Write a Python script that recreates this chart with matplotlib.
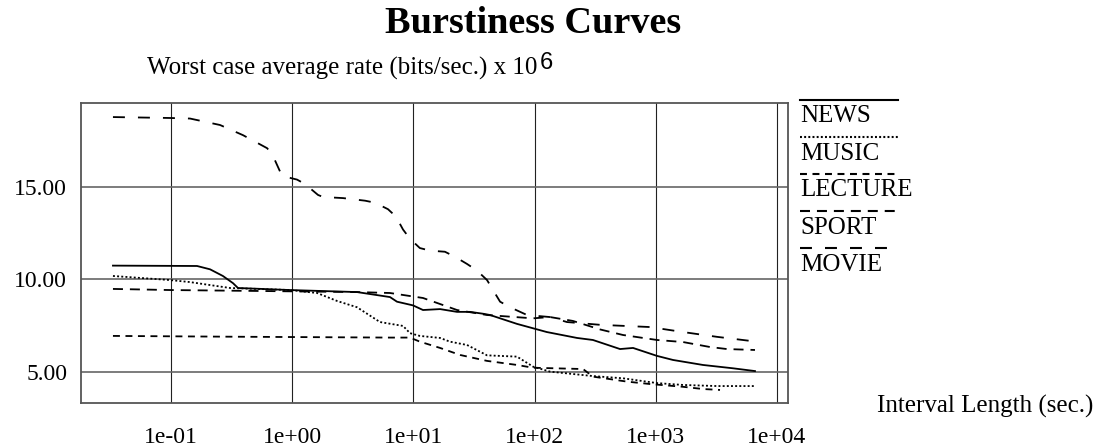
import matplotlib
matplotlib.use("Agg")
import matplotlib.pyplot as plt
from matplotlib.lines import Line2D
from matplotlib.ticker import FixedLocator, NullLocator

plt.rcParams['font.family'] = ['Liberation Serif', 'DejaVu Serif']
plt.rcParams['lines.scale_dashes'] = False

# interval length (sec.) / worst case average rate (x 10^6 bits/sec.)
news_t = [0.0332, 0.164, 0.21, 0.268, 0.325, 0.357, 0.959, 3.43, 6.41, 7.32, 9.93, 12.0, 16.6,
          22.9, 29.3, 37.5, 42.9, 71.6, 126, 224, 303, 507, 649, 1023, 1387, 2450, 4335, 6580]
news_r = [10.75, 10.73, 10.55, 10.19, 9.8, 9.54, 9.43, 9.32, 9.05, 8.8, 8.6, 8.35, 8.4,
          8.25, 8.25, 8.15, 8.08, 7.6, 7.16, 6.84, 6.73, 6.24, 6.3, 5.87, 5.65, 5.38, 5.2, 5.05]

music_t = [0.0332, 0.098, 0.1435, 0.307, 0.959, 1.603, 2.343, 3.425, 5.30, 8.21, 9.37, 11.3,
           16.6, 20.0, 27.7, 40.5, 71.6, 97, 134, 303, 536, 1023, 1675, 3200, 6580]
music_r = [10.19, 9.97, 9.86, 9.54, 9.43, 9.27, 8.84, 8.5, 7.7, 7.49, 7.1, 6.95,
           6.84, 6.64, 6.46, 5.9, 5.83, 5.29, 5.02, 4.78, 4.66, 4.4, 4.3, 4.24, 4.24]

lecture_t = [0.0332, 0.268, 6.41, 9.37, 11.3, 16.6, 24.3, 40.5, 71.6, 97, 251, 303, 578,
             895, 1675, 2450, 3387]
lecture_r = [6.95, 6.91, 6.86, 6.86, 6.64, 6.3, 5.92, 5.6, 5.38, 5.23, 5.16, 4.75, 4.48,
             4.35, 4.2, 4.08, 4.03]

sport_t = [0.0332, 0.098, 0.513, 3.43, 6.41, 12.0, 15.7, 22.9, 40.5, 97, 134, 207, 347, 536,
           1023, 1675, 2800, 3866, 6580]
sport_r = [9.49, 9.43, 9.38, 9.32, 9.27, 9.0, 8.73, 8.35, 8.08, 7.9, 7.97, 7.76, 7.3, 7.0,
           6.73, 6.62, 6.35, 6.24, 6.19]

movie_t = [0.0332, 0.098, 0.1435, 0.254, 0.393, 0.620, 0.681, 0.749, 0.824, 1.096, 1.276,
           1.633, 1.796, 2.626, 3.99, 4.82, 6.17, 7.18, 8.21, 9.37, 11.3, 13.7, 18.2, 22.0,
           27.7, 33.5, 40.5, 45.4, 51.9, 62.7, 86.6, 134, 185, 347, 895, 1675, 3200, 6580]
movie_r = [18.78, 18.73, 18.7, 18.35, 17.8, 17.1, 16.8, 16.2, 15.6, 15.4, 15.16,
           14.57, 14.46, 14.4, 14.26, 14.15, 13.8, 13.4, 12.7, 12.2, 11.7, 11.56, 11.5, 11.23,
           10.84, 10.48, 9.97, 9.43, 8.8, 8.5, 8.08, 7.97, 7.7, 7.55, 7.43, 7.16, 6.9, 6.65]

x_ticks = [1e-1, 1e0, 1e1, 1e2, 1e3, 1e4]
x_labels = ['1e-01', '1e+00', '1e+01', '1e+02', '1e+03', '1e+04']
y_ticks = [5, 10, 15]
y_labels = ['5.00', '10.00', '15.00']

names = ['NEWS', 'MUSIC', 'LECTURE', 'SPORT', 'MOVIE']
styles = ['-', (0, (1.4, 1.6)), (0, (5.0, 4.0)), (0, (7.2, 5.0)), (0, (8.6, 9.4))]

W, H = 1108, 448
fig = plt.figure(figsize=(W / 100, H / 100), dpi=100)
ax = fig.add_axes([81 / W, 45 / H, 707 / W, 300 / H])

series = [(news_t, news_r), (music_t, music_r), (lecture_t, lecture_r),
          (sport_t, sport_r), (movie_t, movie_r)]
for (t, r), ls in zip(series, styles):
    ax.plot(t, r, color='black', lw=1.3, linestyle=ls)

ax.set_xscale('log')
ax.set_xlim(0.01809, 12323)
ax.set_ylim(3.324, 19.54)

ax.xaxis.set_major_locator(FixedLocator(x_ticks))
ax.xaxis.set_minor_locator(NullLocator())
ax.set_xticklabels(x_labels)
ax.set_yticks(y_ticks)
ax.set_yticklabels(y_labels)
ax.tick_params(length=0, labelsize=17)
ax.tick_params(axis='x', pad=17)
ax.tick_params(axis='y', pad=10)

# grid
for x in x_ticks:
    ax.axvline(x, color='#222222', lw=0.8, zorder=0)
for y in y_ticks:
    ax.axhline(y, color='#666666', lw=1.2, zorder=0)
for s in ax.spines.values():
    s.set_color('#555555')
    s.set_linewidth(1.3)

# titles
fig.text(533 / W, 1 - 33 / H, 'Burstiness Curves', ha='center', va='baseline',
         fontsize=27.5, fontweight='bold')
yl = fig.text(147 / W, 1 - 75 / H, 'Worst case average rate (bits/sec.) x 10',
              ha='left', va='baseline', fontsize=18)
ax.annotate('6', xy=(1, 0), xycoords=yl, xytext=(2, 8.5), textcoords='offset points',
            ha='left', va='baseline', fontsize=17, family=['Liberation Sans'])
fig.text(877 / W, 1 - 413 / H, 'Interval Length (sec.)', ha='left', va='baseline',
         fontsize=18)

# legend: line drawn above each label
for i, (name, ls) in enumerate(zip(names, styles)):
    ly = 100 + i * 37
    fig.add_artist(Line2D([800 / W, 898 / W], [1 - ly / H] * 2, color='black',
                          lw=1.5, linestyle=ls))
    fig.text(800 / W, 1 - (ly + 22.5) / H, name, ha='left', va='baseline', fontsize=18)

fig.savefig('out.png', dpi=100)
